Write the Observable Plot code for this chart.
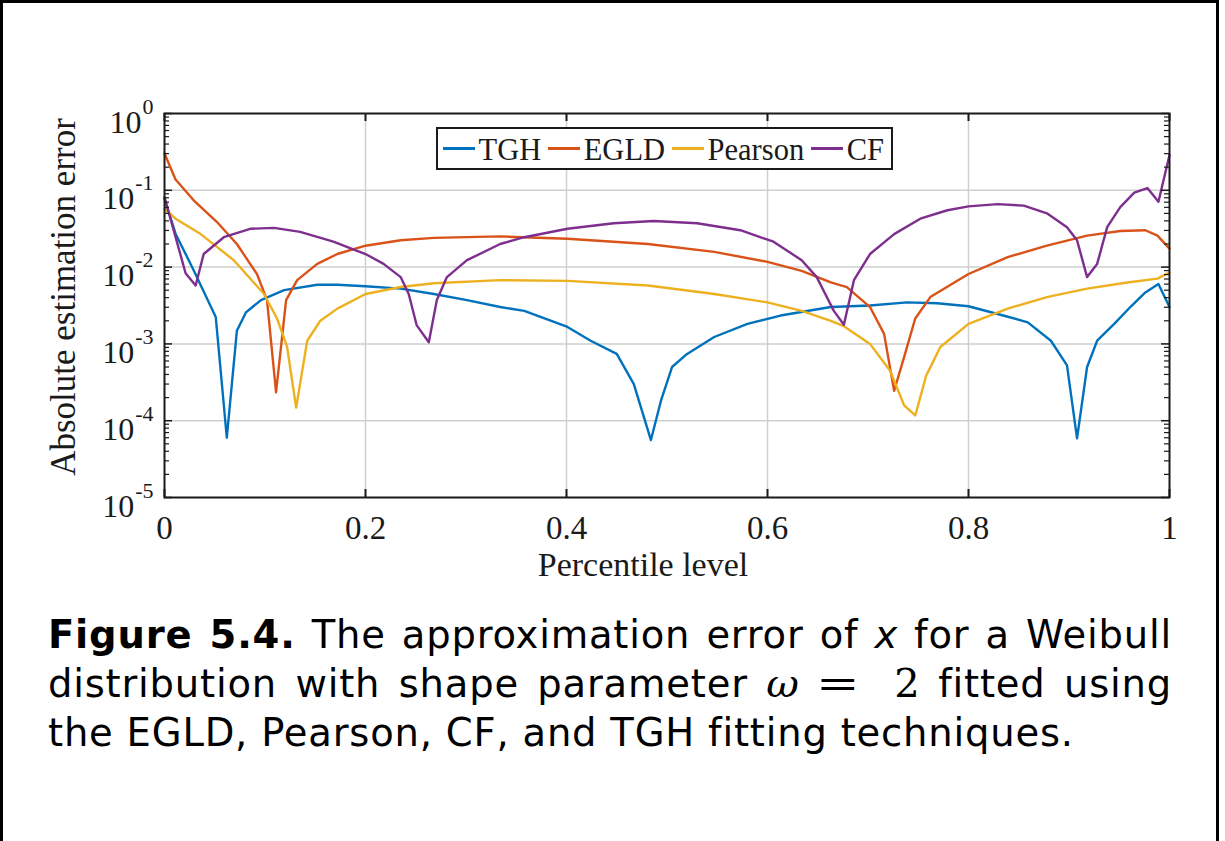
<!DOCTYPE html>
<html>
<head>
<meta charset="utf-8">
<script src="https://cdn.jsdelivr.net/npm/d3@7"></script>
<script src="https://cdn.jsdelivr.net/npm/@observablehq/plot@0.6"></script>
<style>
html, body { margin: 0; padding: 0; background: #fff; }
#page { position: relative; width: 1225px; height: 841px; overflow: hidden; background: #fff; }
#border { position: absolute; left: 0; top: 0; width: 1213px; height: 900px; border: 3px solid #000; }
#chart { position: absolute; left: 0; top: 0; }
#legend { position: absolute; left: 436px; top: 127px; width: 457px; height: 43px; box-sizing: border-box;
  border: 2px solid #1a1a1a; background: #fff; display: flex; align-items: center; padding-left: 5px;
  font-family: 'Liberation Serif', 'Times New Roman', serif; font-size: 30.5px; color: #1a1a1a; white-space: nowrap; }
#legend .sw { display: inline-block; width: 32px; height: 2.5px; margin-right: 4px; }
#legend .lab { margin-right: 7px; line-height: 1; padding-top: 3px; }
#caption { position: absolute; left: 48px; top: 610px; width: 1124px; font-family: 'DejaVu Sans', sans-serif;
  font-size: 38.5px; line-height: 49px; color: #000; letter-spacing: 0.8px; }
#caption .jl { text-align: justify; text-align-last: justify; }
#caption i.v { font-family: 'DejaVu Sans', sans-serif; font-style: oblique; }
#caption .m { display: inline-block; font-family: 'DejaVu Serif', serif; font-size: 40px; letter-spacing: 0; }
#caption .m .eq { display: inline-block; margin: 0 40px 0 22px; transform: scaleX(1.3); }
</style>
</head>
<body>
<div id="page">
  <div id="chart"></div>
  <div id="legend"></div>
  <div id="caption">
    <div class="jl"><b>Figure 5.4.</b> The approximation error of <i class="v">x</i> for a Weibull</div>
    <div class="jl">distribution with shape parameter <span class="m"><i>ω</i><span class="eq">=</span>2</span> fitted using</div>
    <div>the EGLD, Pearson, CF, and TGH fitting techniques.</div>
  </div>
  <div id="border"></div>
</div>
<script>
// ---- axis ticks ----
const xTickValues = [0, 0.2, 0.4, 0.6, 0.8, 1];
const xTickLabels = ["0", "0.2", "0.4", "0.6", "0.8", "1"];
const yTickValues = [1e-5, 1e-4, 1e-3, 1e-2, 1e-1, 1];
const yTickExponents = ["-5", "-4", "-3", "-2", "-1", "0"];

// ---- series ----
const seriesNames = ["TGH", "EGLD", "Pearson", "CF"];
const seriesColors = ["#0072BD", "#D95319", "#EDB120", "#7E2F8E"];

const tghP = [0, 0.011, 0.029, 0.051, 0.062, 0.072, 0.081, 0.096, 0.119, 0.152, 0.172, 0.2, 0.235, 0.268, 0.301,
  0.334, 0.358, 0.401, 0.424, 0.45, 0.467, 0.484, 0.494, 0.505, 0.52, 0.547, 0.58, 0.613, 0.663, 0.702, 0.739,
  0.769, 0.8, 0.829, 0.859, 0.882, 0.898, 0.908, 0.918, 0.928, 0.945, 0.961, 0.976, 0.989, 1];
const tghErr = [0.0778, 0.0272, 0.00912, 0.00224, 0.00006, 0.00148, 0.00257, 0.00372, 0.00501, 0.00589, 0.00589,
  0.00562, 0.00525, 0.00447, 0.00372, 0.00302, 0.00269, 0.00166, 0.0011, 0.00074, 0.0003, 0.000056, 0.000182,
  0.0005, 0.00074, 0.00123, 0.00182, 0.00234, 0.00302, 0.00316, 0.00347, 0.00339, 0.00309, 0.00245, 0.00191,
  0.0011, 0.000525, 0.000059, 0.0005, 0.0011, 0.00182, 0.00302, 0.00468, 0.00603, 0.00302];

const egldP = [0, 0.011, 0.029, 0.052, 0.072, 0.092, 0.102, 0.111, 0.121, 0.132, 0.152, 0.172, 0.2, 0.235, 0.268,
  0.334, 0.401, 0.481, 0.547, 0.6, 0.634, 0.663, 0.679, 0.702, 0.716, 0.726, 0.736, 0.747, 0.762, 0.8, 0.839,
  0.878, 0.918, 0.951, 0.976, 0.988, 1];
const egldErr = [0.302, 0.138, 0.0741, 0.0389, 0.02, 0.00813, 0.00372, 0.000234, 0.00372, 0.00676, 0.011, 0.0148,
  0.019, 0.0224, 0.024, 0.0251, 0.0234, 0.02, 0.0158, 0.0117, 0.00891, 0.00631, 0.0055, 0.00302, 0.00135,
  0.000245, 0.000676, 0.00214, 0.00407, 0.00813, 0.0135, 0.019, 0.0257, 0.0295, 0.0302, 0.0257, 0.0174];

const pearsonP = [0, 0.011, 0.036, 0.069, 0.099, 0.112, 0.122, 0.131, 0.142, 0.155, 0.172, 0.2, 0.235, 0.268, 0.334,
  0.401, 0.481, 0.547, 0.6, 0.634, 0.663, 0.676, 0.702, 0.722, 0.736, 0.747, 0.758, 0.772, 0.8, 0.839, 0.878,
  0.918, 0.958, 0.988, 1];
const pearsonErr = [0.0575, 0.0427, 0.0269, 0.0123, 0.00447, 0.00214, 0.000912, 0.000148, 0.0011, 0.002, 0.00288,
  0.00447, 0.0055, 0.00617, 0.00676, 0.00661, 0.00575, 0.00447, 0.00347, 0.00269, 0.002, 0.0017, 0.001,
  0.000447, 0.000158, 0.000117, 0.000389, 0.000912, 0.00182, 0.00288, 0.00407, 0.00525, 0.00631, 0.00708, 0.00851];

const cfP = [0, 0.021, 0.031, 0.039, 0.059, 0.086, 0.109, 0.135, 0.168, 0.2, 0.218, 0.235, 0.243, 0.251, 0.263,
  0.271, 0.281, 0.301, 0.334, 0.358, 0.401, 0.447, 0.487, 0.53, 0.573, 0.606, 0.634, 0.649, 0.659, 0.666, 0.676,
  0.686, 0.702, 0.726, 0.752, 0.779, 0.8, 0.829, 0.855, 0.878, 0.898, 0.908, 0.918, 0.928, 0.938, 0.951, 0.965,
  0.978, 0.989, 1];
const cfErr = [0.0813, 0.00832, 0.00575, 0.0148, 0.0245, 0.0316, 0.0324, 0.0288, 0.0214, 0.0148, 0.011, 0.00741,
  0.00447, 0.00174, 0.00105, 0.00372, 0.00741, 0.0123, 0.02, 0.0245, 0.0316, 0.0372, 0.0398, 0.0372, 0.0302,
  0.0214, 0.0123, 0.00741, 0.00407, 0.00269, 0.00178, 0.00676, 0.0148, 0.0269, 0.0427, 0.055, 0.0617, 0.0661,
  0.0631, 0.0501, 0.0331, 0.0224, 0.00741, 0.011, 0.0331, 0.0603, 0.0933, 0.107, 0.0708, 0.288];

const seriesP = [tghP, egldP, pearsonP, cfP];
const seriesErr = [tghErr, egldErr, pearsonErr, cfErr];
const rows = seriesNames.flatMap((name, s) => seriesP[s].map((p, i) => ({series: name, p, err: seriesErr[s][i]})));

// layout
const W = 1225, H = 600, mL = 164, mR = 56, mT = 113, mB = 103;
const plotW = W - mL - mR, plotH = H - mT - mB;
const minorY = d3.range(-5, 0).flatMap(k => d3.range(2, 10).map(m => m * Math.pow(10, k)));
const ink = "#1a1a1a";

const chart = Plot.plot({
  width: W, height: H,
  marginLeft: mL, marginRight: mR, marginTop: mT, marginBottom: mB,
  style: {fontFamily: "'Liberation Serif', 'Times New Roman', serif", fontSize: "33px", color: ink, background: "transparent"},
  x: {domain: [0, 1], label: null},
  y: {type: "log", domain: [1e-5, 1], label: null},
  color: {domain: seriesNames, range: seriesColors},
  marks: [
    Plot.gridX(xTickValues.slice(1, -1), {stroke: "#cfcfcf", strokeOpacity: 1, strokeWidth: 1.5}),
    Plot.gridY(yTickValues.slice(1, -1), {stroke: "#cfcfcf", strokeOpacity: 1, strokeWidth: 1.5}),
    Plot.line(rows, {x: "p", y: "err", z: "series", stroke: "series", strokeWidth: 2.4, strokeLinejoin: "round"}),
    // inward ticks (MATLAB style)
    Plot.ruleX(xTickValues, {x: d => d, insetTop: plotH - 8, stroke: ink, strokeWidth: 2}),
    Plot.ruleX(xTickValues, {x: d => d, insetBottom: plotH - 8, stroke: ink, strokeWidth: 2}),
    Plot.ruleY(yTickValues, {y: d => d, insetRight: plotW - 8, stroke: ink, strokeWidth: 1.5}),
    Plot.ruleY(yTickValues, {y: d => d, insetLeft: plotW - 8, stroke: ink, strokeWidth: 1.5}),
    Plot.ruleY(minorY, {y: d => d, insetRight: plotW - 5, stroke: ink, strokeWidth: 1.2}),
    Plot.ruleY(minorY, {y: d => d, insetLeft: plotW - 5, stroke: ink, strokeWidth: 1.2}),
    Plot.frame({stroke: ink, strokeWidth: 2}),
    Plot.axisX(xTickValues, {tickSize: 0, tickPadding: 18, fontSize: 33, label: null,
      tickFormat: d => xTickLabels[xTickValues.indexOf(d)]}),
    Plot.axisY(yTickValues, {tickSize: 0, tickPadding: 11, fontSize: 32, label: null,
      tickFormat: d => "10^" + yTickExponents[yTickValues.indexOf(d)]})
  ]
});
document.getElementById("chart").appendChild(chart);

// superscript exponents on the y tick labels
const NS = "http://www.w3.org/2000/svg";
chart.querySelectorAll('g[aria-label="y-axis tick label"] text').forEach(t => {
  const [base, exp] = t.textContent.split("^");
  t.textContent = "";
  t.setAttribute("y", "19");
  const a = document.createElementNS(NS, "tspan");
  a.textContent = base;
  const b = document.createElementNS(NS, "tspan");
  b.textContent = exp;
  b.setAttribute("dy", "-19");
  b.setAttribute("dx", "1");
  b.setAttribute("font-size", "22");
  t.appendChild(a); t.appendChild(b);
});

// axis titles
const svg = d3.select(chart);
svg.append("text").attr("transform", "translate(75,297) rotate(-90)")
  .attr("text-anchor", "middle").attr("font-size", 35).attr("fill", ink)
  .text("Absolute estimation error");
svg.append("text").attr("x", 643).attr("y", 576)
  .attr("text-anchor", "middle").attr("font-size", 34).attr("fill", ink)
  .text("Percentile level");

// legend
const legend = d3.select("#legend");
seriesNames.forEach((name, i) => {
  legend.append("span").attr("class", "sw").style("background", seriesColors[i]);
  legend.append("span").attr("class", "lab").text(name);
});
</script>
</body>
</html>
